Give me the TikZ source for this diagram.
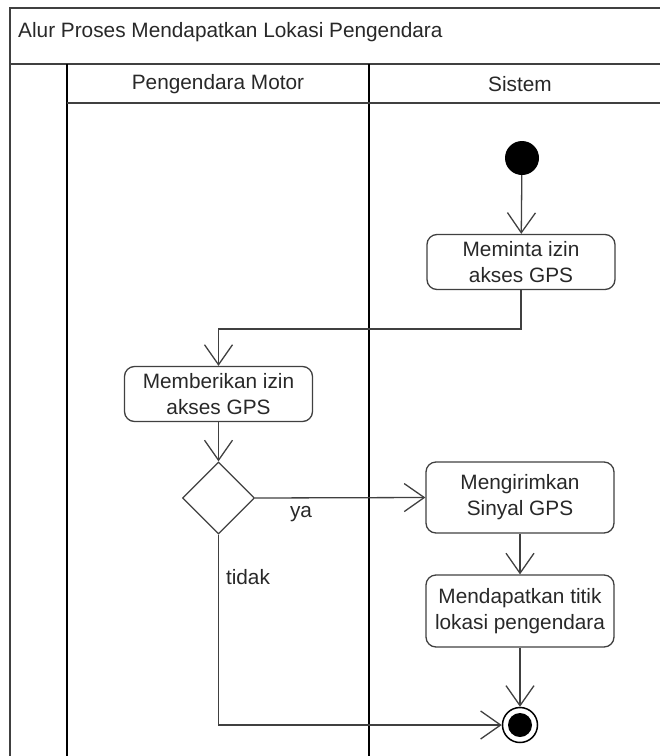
\documentclass[tikz,border=0pt]{standalone}
\usepackage{fontspec}
\setmainfont{Liberation Sans}
\usetikzlibrary{arrows.meta,shapes.geometric}
\definecolor{ln}{HTML}{404040}
\definecolor{tx}{HTML}{282828}
\begin{document}
\begin{tikzpicture}[x=1pt,y=-1pt,
  font=\fontsize{20.8}{26}\selectfont,
  act/.style={draw=ln, line width=1.3pt, rounded corners=10pt, align=center, text=tx, minimum width=188pt, inner sep=0pt},
  flow/.style={draw=ln, line width=1.3pt, -{Straight Barb[length=20pt,width=28pt,line width=1.3pt]}},
  lane/.style={line width=2.8pt, black},
  frame/.style={line width=1.5pt, ln},
  lbl/.style={text=tx, inner sep=0pt}]
\useasboundingbox (0,0) rectangle (660,756);
% frame and swimlanes
\draw[frame] (661,8) -- (10,8) -- (10,757);
\draw[frame] (10,64) -- (661,64);
\draw[lane] (67,64) -- (67,757);
\draw[lane] (369,64) -- (369,757);
\draw[frame] (67,103) -- (661,103);
\node[lbl, anchor=base west] (title) at (18,37) {Alur Proses Mendapatkan Lokasi Pengendara};
\node[lbl] (h1) at (218,84) {Pengendara Motor};
\node[lbl] (h2) at (520,84) {Sistem};
% nodes
\node[circle, fill=black, minimum size=34pt, inner sep=0pt] (start) at (522,158) {};
\node[act, minimum height=55pt] (a1) at (521,262) {Meminta izin\\akses GPS};
\node[act, minimum height=55pt] (a2) at (218.5,394) {Memberikan izin\\akses GPS};
\node[diamond, draw=ln, line width=1.3pt, minimum width=72pt, minimum height=72pt, inner sep=0pt] (d) at (218.5,498) {};
\node[act, minimum height=71pt] (a3) at (520,497.5) {Mengirimkan\\Sinyal GPS};
\node[act, minimum height=72pt] (a4) at (520,611) {Mendapatkan titik\\lokasi pengendara};
\node[circle, draw=black, line width=1.5pt, minimum size=35pt, inner sep=0pt] (end) at (520,725) {};
\node[circle, fill=black, minimum size=24pt, inner sep=0pt] (endin) at (end) {};
\coordinate (k1) at (521,329);
\coordinate (k2) at (218.5,329);
\coordinate (k3) at (218.5,725);
% edges
\draw[flow] (start) -- (a1);
\draw[flow] (a1.south) -- (k1) -- (k2) -- (a2.north);
\draw[flow] (a2) -- (d);
\draw[flow] (d.east) -- (a3.west) node[lbl] at (301,514) {ya};
\draw[flow] (a3) -- (a4);
\draw[flow] (a4) -- (end);
\draw[flow] (d.south) -- (k3) -- (end.west) node[lbl] at (248,577) {tidak};
\end{tikzpicture}
\end{document}
